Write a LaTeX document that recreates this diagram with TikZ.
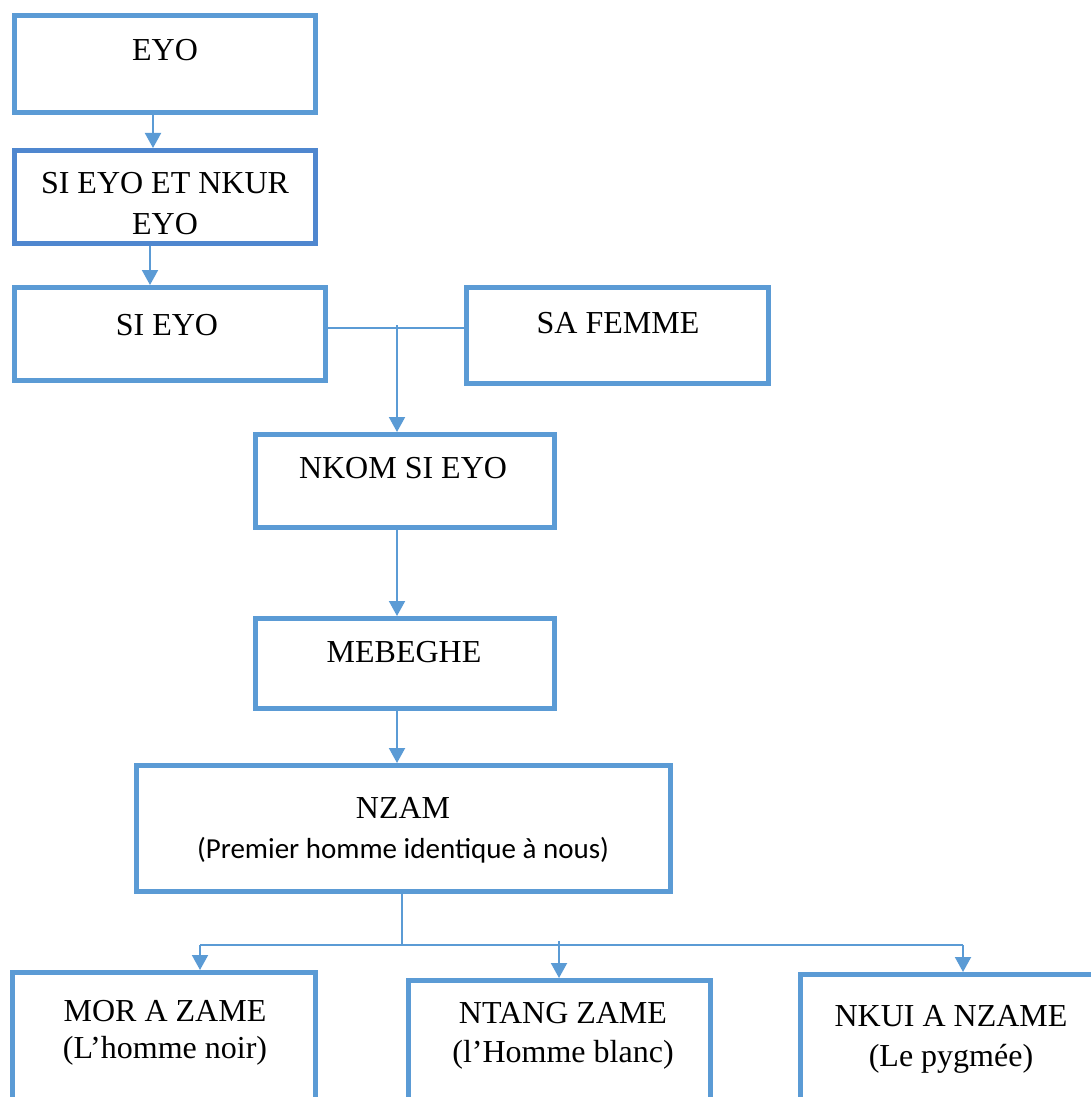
\documentclass[tikz,border=0pt]{standalone}
\usepackage{fontspec}
\setmainfont{Liberation Serif}
\newfontfamily\calib{Carlito}
\usetikzlibrary{arrows.meta}
\definecolor{bx}{HTML}{5B9BD5}
\definecolor{bxd}{HTML}{4F87CF}
\begin{document}
\begin{tikzpicture}[x=1pt,y=-1pt,
  box/.style={draw=bx,line width=5pt,inner sep=0pt,fill=white},
  lbl/.style={anchor=base,inner sep=0pt,font=\fontsize{32}{38}\selectfont},
  sublbl/.style={anchor=base,inner sep=0pt,font=\calib\fontsize{29}{35}\selectfont},
  arr/.style={draw=bx,line width=2pt,-{Triangle[width=16pt,length=15pt]}},
  conn/.style={draw=bx,line width=1.6pt}]
\useasboundingbox (0,0) rectangle (1091,1097);
\clip (0,0) rectangle (1091,1097);
% boxes
\node[box,minimum width=301pt,minimum height=97pt] (eyo) at (165,64) {};
\node[box,draw=bxd,minimum width=301pt,minimum height=93pt] (sinkur) at (165,197) {};
\node[box,minimum width=311pt,minimum height=93pt] (sieyo) at (170,334) {};
\node[box,minimum width=302pt,minimum height=96pt] (femme) at (617.5,335.5) {};
\node[box,minimum width=299pt,minimum height=93pt] (nkom) at (405,481) {};
\node[box,minimum width=299pt,minimum height=90pt] (mebeghe) at (405,663.5) {};
\node[box,minimum width=534pt,minimum height=126pt] (nzam) at (403.5,828.5) {};
\node[box,minimum width=303pt,minimum height=140pt] (mor) at (164,1042.5) {};
\node[box,minimum width=302pt,minimum height=140pt] (ntang) at (559.5,1050.5) {};
\node[box,minimum width=305pt,minimum height=140pt] (nkui) at (953,1044.5) {};
% labels
\node[lbl] (t1) at (165,61) {EYO};
\node[lbl] (t2a) at (165,193) {SI EYO ET NKUR};
\node[lbl] (t2b) at (165,234) {EYO};
\node[lbl] (t3) at (167,335) {SI EYO};
\node[lbl] (t4) at (618,333) {SA FEMME};
\node[lbl] (t5) at (403,478) {NKOM SI EYO};
\node[lbl] (t6) at (404,662) {MEBEGHE};
\node[lbl] (t7a) at (403,818) {NZAM};
\node[sublbl] (t7b) at (403,858) {(Premier homme identique à nous)};
\node[lbl] (t8a) at (165,1021) {MOR A ZAME};
\node[lbl] (t8b) at (165,1058) {(L’homme noir)};
\node[lbl] (t9a) at (563,1023) {NTANG ZAME};
\node[lbl] (t9b) at (563,1062) {(l’Homme blanc)};
\node[lbl] (t10a) at (951,1026) {NKUI A NZAME};
\node[lbl] (t10b) at (951,1066) {(Le pygmée)};
% connector coordinates
\coordinate (c1) at (153,0);
\coordinate (c2) at (150,0);
\coordinate (m) at (0,328);
\coordinate (j) at (397,325);
\coordinate (c3) at (397,0);
\coordinate (busL) at (200,945);
\coordinate (busR) at (963,945);
\coordinate (busM) at (559,941);
% connectors
\draw[arr] (eyo.south -| c1) -- (sinkur.north -| c1);
\draw[arr] (sinkur.south -| c2) -- (sieyo.north -| c2);
\draw[conn] (sieyo.east |- m) -- (femme.west |- m);
\draw[arr] (j) -- (nkom.north -| j);
\draw[arr] (nkom.south -| c3) -- (mebeghe.north -| c3);
\draw[arr] (mebeghe.south -| c3) -- (nzam.north -| c3);
\draw[conn] (nzam.south -| 402,0) -- (402,945);
\draw[conn] (busL) -- (busR);
\draw[arr] (busL) -- (mor.north -| busL);
\draw[arr] (busM) -- (ntang.north -| busM);
\draw[arr] (busR) -- (nkui.north -| busR);
\end{tikzpicture}
\end{document}
